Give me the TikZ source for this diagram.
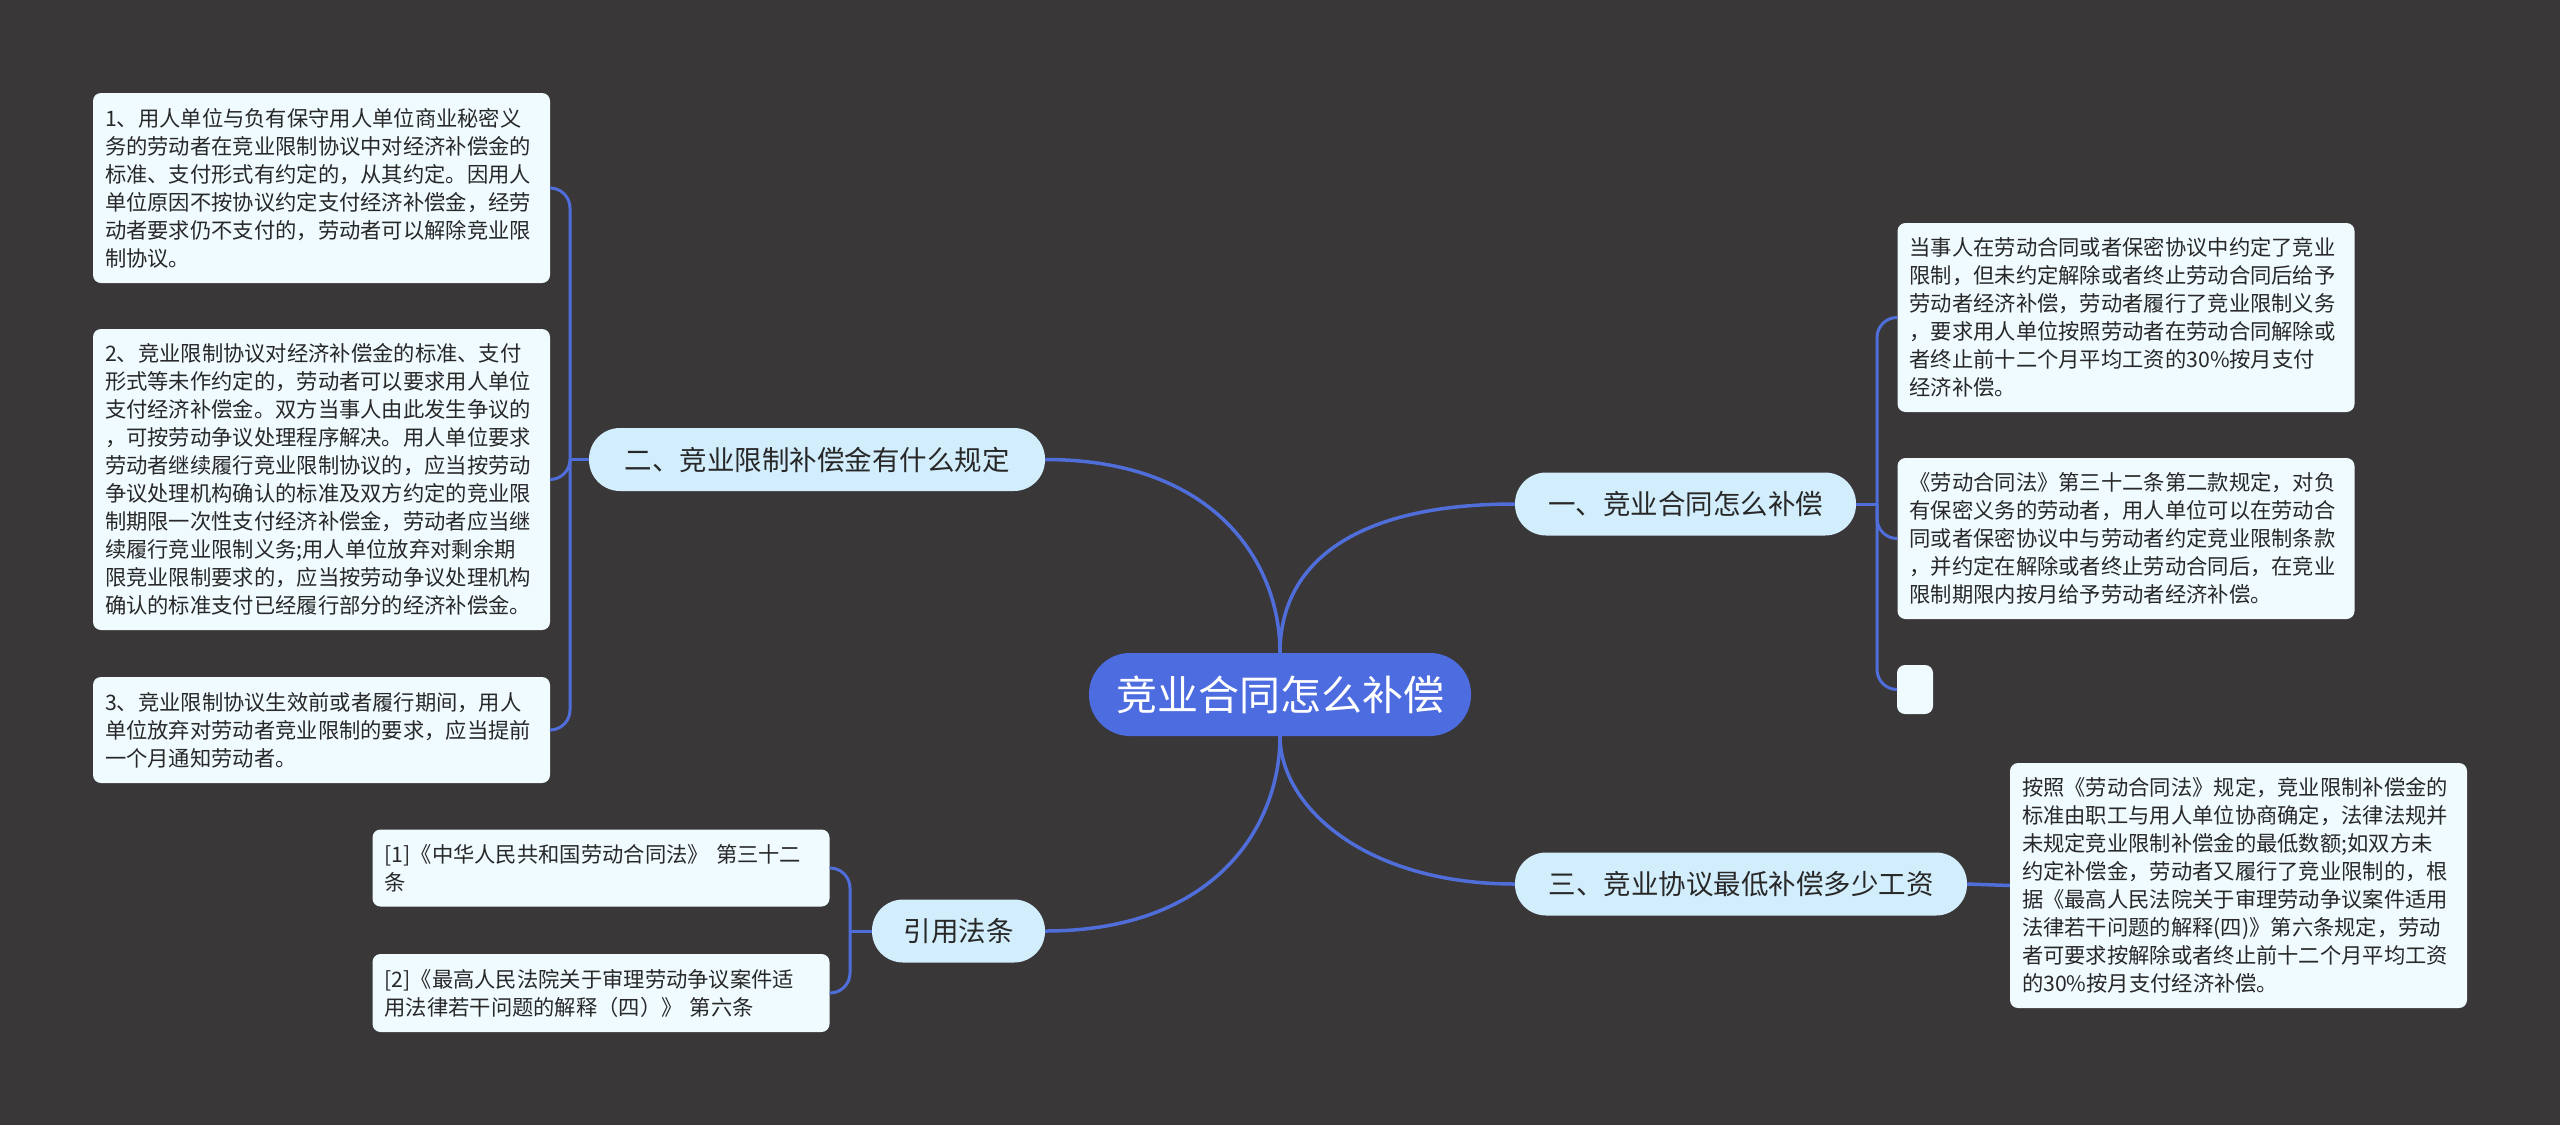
\documentclass[tikz,border=0pt]{standalone}
\usepackage{fontspec}
\setmainfont{Noto Sans CJK SC}
\usepackage{xcolor}
\usepackage{tikz}
\definecolor{bgdark}{RGB}{57,55,56}
\definecolor{linkblue}{RGB}{80,110,218}
\definecolor{rootblue}{RGB}{76,108,224}
\definecolor{branchfill}{RGB}{210,237,252}
\definecolor{leaffill}{RGB}{240,251,255}
\definecolor{inkdark}{RGB}{40,40,40}

\begin{document}
\begin{tikzpicture}[x=1pt,y=-1pt,
  rootnode/.style={fill=rootblue,text=white,rounded corners=41pt,
    minimum width=382pt,minimum height=83pt,inner sep=0pt,
    font=\fontsize{41}{48}\selectfont},
  branchnode/.style={fill=branchfill,text=inkdark,rounded corners=31pt,
    minimum height=63pt,inner sep=0pt,font=\fontsize{27.5}{32}\selectfont},
  leafnode/.style={fill=leaffill,text=inkdark,rounded corners=8pt,
    text width=433pt,inner xsep=12pt,inner ysep=0pt,align=left,
    font=\fontsize{21.3}{28}\selectfont},
  link/.style={draw=linkblue,line width=3.5pt},
  spine/.style={draw=linkblue,line width=3pt,rounded corners=20pt}]

  % background
  \fill[bgdark] (0,0) rectangle (2560,1125);

  % centre and main branches
  \node[rootnode] (root) at (1280,694.5) {竞业合同怎么补偿};
  \node[branchnode,minimum width=341pt] (b1) at (1685.5,504) {一、竞业合同怎么补偿};
  \node[branchnode,minimum width=456pt] (b2) at (817,459.5) {二、竞业限制补偿金有什么规定};
  \node[branchnode,minimum width=452pt] (b3) at (1741,884) {三、竞业协议最低补偿多少工资};
  \node[branchnode,minimum width=173pt] (b4) at (958.5,931) {引用法条};

  % left leaves
  \node[leafnode,minimum height=190pt] (l1) at (321.5,188) {1、用人单位与负有保守用人单位商业秘密义\\
    务的劳动者在竞业限制协议中对经济补偿金的\\
    标准、支付形式有约定的，从其约定。因用人\\
    单位原因不按协议约定支付经济补偿金，经劳\\
    动者要求仍不支付的，劳动者可以解除竞业限\\
    制协议。};
  \node[leafnode,minimum height=301pt] (l2) at (321.5,479.5) {2、竞业限制协议对经济补偿金的标准、支付\\
    形式等未作约定的，劳动者可以要求用人单位\\
    支付经济补偿金。双方当事人由此发生争议的\\
    ，可按劳动争议处理程序解决。用人单位要求\\
    劳动者继续履行竞业限制协议的，应当按劳动\\
    争议处理机构确认的标准及双方约定的竞业限\\
    制期限一次性支付经济补偿金，劳动者应当继\\
    续履行竞业限制义务;用人单位放弃对剩余期\\
    限竞业限制要求的，应当按劳动争议处理机构\\
    确认的标准支付已经履行部分的经济补偿金。};
  \node[leafnode,minimum height=106pt] (l3) at (321.5,730) {3、竞业限制协议生效前或者履行期间，用人\\
    单位放弃对劳动者竞业限制的要求，应当提前\\
    一个月通知劳动者。};

  % right leaves
  \node[leafnode,minimum height=189pt] (r1) at (2126,317.5) {当事人在劳动合同或者保密协议中约定了竞业\\
    限制，但未约定解除或者终止劳动合同后给予\\
    劳动者经济补偿，劳动者履行了竞业限制义务\\
    ，要求用人单位按照劳动者在劳动合同解除或\\
    者终止前十二个月平均工资的30\%按月支付\\
    经济补偿。};
  \node[leafnode,minimum height=161pt] (r2) at (2126,538.5) {《劳动合同法》第三十二条第二款规定，对负\\
    有保密义务的劳动者，用人单位可以在劳动合\\
    同或者保密协议中与劳动者约定竞业限制条款\\
    ，并约定在解除或者终止劳动合同后，在竞业\\
    限制期限内按月给予劳动者经济补偿。};
  \node[fill=leaffill,rounded corners=8pt,minimum width=36pt,minimum height=49pt,
    inner sep=0pt] (r3) at (1915,689.5) {};
  \node[leafnode,minimum height=245pt] (r4) at (2238.5,885.5) {按照《劳动合同法》规定，竞业限制补偿金的\\
    标准由职工与用人单位协商确定，法律法规并\\
    未规定竞业限制补偿金的最低数额;如双方未\\
    约定补偿金，劳动者又履行了竞业限制的，根\\
    据《最高人民法院关于审理劳动争议案件适用\\
    法律若干问题的解释(四)》第六条规定，劳动\\
    者可要求按解除或者终止前十二个月平均工资\\
    的30\%按月支付经济补偿。};

  % citations
  \node[leafnode,minimum height=77pt] (c1) at (601,868) {[1]《中华人民共和国劳动合同法》 第三十二\\
    条};
  \node[leafnode,minimum height=78pt] (c2) at (601,993) {[2]《最高人民法院关于审理劳动争议案件适\\
    用法律若干问题的解释（四）》 第六条};

  % curves from the centre
  \draw[link] (root.north) .. controls +(0,-90) and +(-160,0) .. (b1.west);
  \draw[link] (root.north) .. controls +(0,-90) and +(170,0) .. (b2.east);
  \draw[link] (root.south) .. controls +(0,70) and +(-150,0) .. (b3.west);
  \draw[link] (root.south) .. controls +(0,90) and +(170,0) .. (b4.east);

  % spines to the leaves
  \coordinate (j1) at (1877,504);
  \coordinate (j2) at (570,459.5);
  \coordinate (j4) at (850,931);
  \draw[spine] (b1.east) -- (j1);
  \foreach \leaf in {r1,r2,r3}
    \draw[spine] (j1) |- (\leaf.west);
  \draw[spine] (b2.west) -- (j2);
  \foreach \leaf in {l1,l2,l3}
    \draw[spine] (j2) |- (\leaf.east);
  \draw[spine] (b4.west) -- (j4);
  \foreach \leaf in {c1,c2}
    \draw[spine] (j4) |- (\leaf.east);
  \draw[link] (b3.east) -- (r4.west);
\end{tikzpicture}
\end{document}
